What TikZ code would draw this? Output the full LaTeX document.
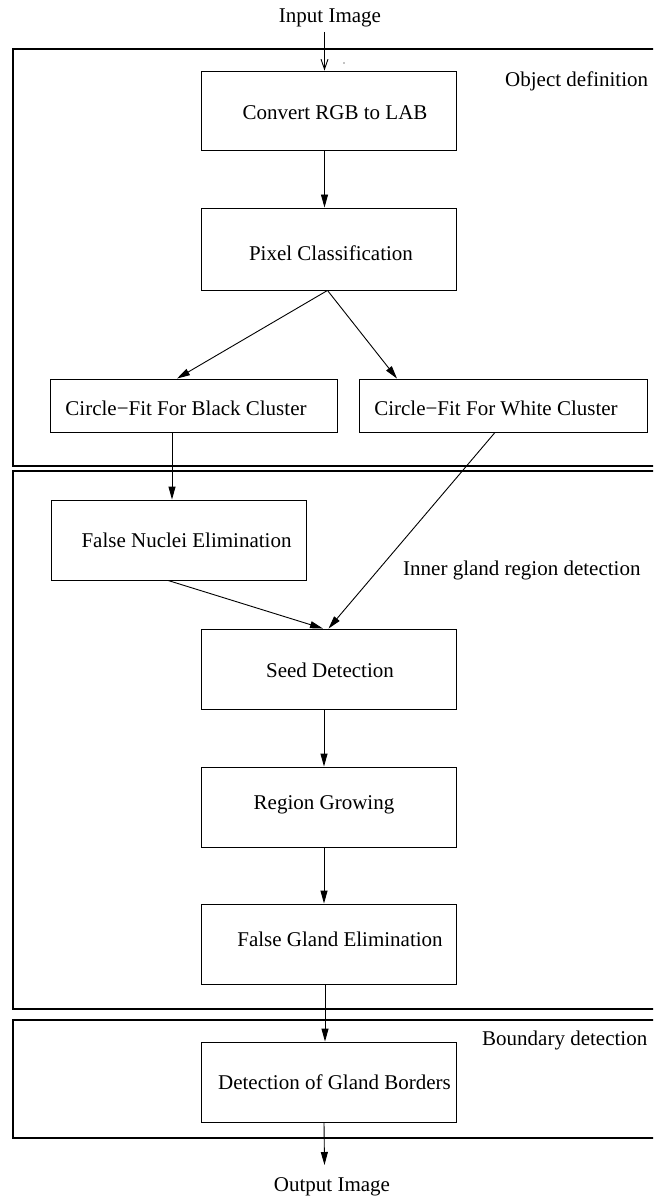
\documentclass[tikz,border=0pt]{standalone}
\usepackage{fontspec}
\setmainfont{Liberation Serif}
\usetikzlibrary{arrows.meta}
\begin{document}
\begin{tikzpicture}[x=1pt,y=-1pt,
  txt/.style={font=\fontsize{21pt}{25pt}\selectfont, inner sep=0pt},
  box/.style={draw, line width=0.9pt, inner sep=0pt, minimum width=255pt, minimum height=80pt},
  panel/.style={draw, line width=1.2pt},
  arr/.style={line width=0.9pt, -{Triangle[length=13pt,width=7pt]}},
  openarr/.style={line width=0.9pt, -{Straight Barb[length=10pt,width=7pt]}}]
\useasboundingbox (0,0) rectangle (653,1198);
\clip (0,0) rectangle (653,1198);
% panels
\draw[panel] (13,49) rectangle (680,466);
\draw[panel] (13,471) rectangle (680,1009);
\draw[panel] (13,1020) rectangle (680,1138);
% panel labels
\node[txt, anchor=west] (lobj) at (505,81) {Object definition};
\node[txt, anchor=west] (linner) at (403,570) {Inner gland region detection};
\node[txt, anchor=west] (lbound) at (482,1040) {Boundary detection};
% input / output
\node[txt] (in) at (330,18) {Input Image};
\node[txt] (out) at (332,1187) {Output Image};
% boxes
\node[box, minimum height=79pt, label={[txt, xshift=6pt, yshift=-2.5pt]center:Convert RGB to LAB}] (b1) at (329,110.5) {};
\node[box, minimum height=82pt, label={[txt, xshift=2pt, yshift=-4pt]center:Pixel Classification}] (b2) at (329,249) {};
\node[box, minimum width=287pt, minimum height=53pt, label={[txt, xshift=-7.5pt, yshift=-2.5pt]center:Circle−Fit For Black Cluster}] (b3) at (193.5,405.5) {};
\node[box, minimum width=288pt, minimum height=53pt, label={[txt, xshift=-7pt, yshift=-2.5pt]center:Circle−Fit For White Cluster}] (b4) at (503,405.5) {};
\node[box, label={[txt, xshift=8pt]center:False Nuclei Elimination}] (b5) at (178.5,540) {};
\node[box, label={[txt, xshift=1.5pt, yshift=-1pt]center:Seed Detection}] (b6) at (328.5,669) {};
\node[box, label={[txt, xshift=-4.5pt, yshift=2pt]center:Region Growing}] (b7) at (328.5,807) {};
\node[box, label={[txt, xshift=11.5pt, yshift=5pt]center:False Gland Elimination}] (b8) at (328.5,944) {};
\node[box, label={[txt, xshift=6pt]center:Detection of Gland Borders}] (b9) at (328.5,1082) {};
% stray dot
\fill (344,63) circle (0.6pt);
% free ends
\coordinate (inA) at (324.5,32);
\coordinate (outA) at (324.5,1165);
% connectors
\draw[openarr] (inA) -- ([xshift=-4.5pt]b1.north);
\draw[arr] ([xshift=-4.5pt]b1.south) -- ([xshift=-4.5pt]b2.north);
\draw[arr] ([xshift=-1.5pt]b2.south) -- ([xshift=-16.5pt]b3.north);
\draw[arr] ([xshift=-1.5pt]b2.south) -- ([xshift=-106pt]b4.north);
\draw[arr] ([xshift=-21.5pt]b3.south) -- ([xshift=-6.5pt]b5.north);
\draw[arr] ([xshift=-10.5pt]b5.south) -- ([xshift=-5.5pt]b6.north);
\draw[arr] ([xshift=-8pt]b4.south) -- ([xshift=0pt]b6.north);
\draw[arr] ([xshift=-4.5pt]b6.south) -- ([xshift=-4.5pt]b7.north);
\draw[arr] ([xshift=-4.5pt]b7.south) -- ([xshift=-4.5pt]b8.north);
\draw[arr] ([xshift=-3.5pt]b8.south) -- ([xshift=-3.5pt]b9.north);
\draw[arr] ([xshift=-4.5pt]b9.south) -- (outA);
\end{tikzpicture}
\end{document}
